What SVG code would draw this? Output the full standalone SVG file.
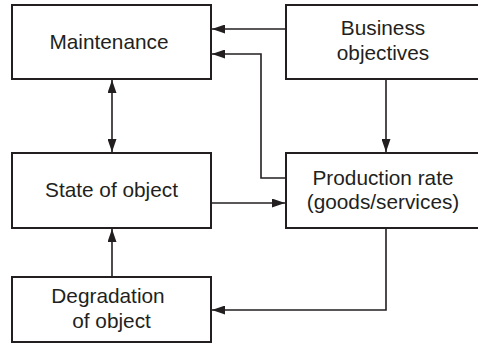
<svg xmlns="http://www.w3.org/2000/svg" width="478" height="343" viewBox="0 0 478 343">
<style>
.box{fill:#fff;stroke:#231f20;stroke-width:2}
.lbl{font-family:"Liberation Sans",Arial,sans-serif;font-size:20.8px;fill:#231f20;text-anchor:middle}
.con{fill:none;stroke:#231f20;stroke-width:1.6}
</style>
<defs>
<marker id="ah" viewBox="0 0 13 9" refX="13" refY="4.5" markerWidth="13" markerHeight="9" markerUnits="userSpaceOnUse" orient="auto-start-reverse">
<path d="M0,0 L13,4.5 L0,9 Z" fill="#231f20"/>
</marker>
</defs>
<rect width="478" height="343" fill="#fff"/>
<g id="connectors">
<path class="con" d="M286,29 H212" marker-end="url(#ah)"/>
<path class="con" d="M286,178 H261 V54 H212" marker-end="url(#ah)"/>
<path class="con" d="M112,80 V152" marker-start="url(#ah)" marker-end="url(#ah)"/>
<path class="con" d="M386,79 V152" marker-end="url(#ah)"/>
<path class="con" d="M211,203 H285" marker-end="url(#ah)"/>
<path class="con" d="M112,277 V229" marker-end="url(#ah)"/>
<path class="con" d="M386,228 V310 H212" marker-end="url(#ah)"/>
</g>
<g id="maintenance">
<rect class="box" x="12" y="5" width="199" height="74"/>
<text class="lbl" x="109" y="49">Maintenance</text>
</g>
<g id="business">
<rect class="box" x="286" y="5" width="200" height="74"/>
<text class="lbl" x="383" y="35">Business</text>
<text class="lbl" x="383" y="60">objectives</text>
</g>
<g id="state">
<rect class="box" x="12" y="153" width="199" height="75"/>
<text class="lbl" x="111.5" y="197">State of object</text>
</g>
<g id="production">
<rect class="box" x="286" y="153" width="200" height="75"/>
<text class="lbl" x="383" y="185">Production rate</text>
<text class="lbl" x="383" y="209">(goods/services)</text>
</g>
<g id="degradation">
<rect class="box" x="12" y="277" width="199" height="65"/>
<text class="lbl" x="108" y="303">Degradation</text>
<text class="lbl" x="111.5" y="328">of object</text>
</g>
</svg>
